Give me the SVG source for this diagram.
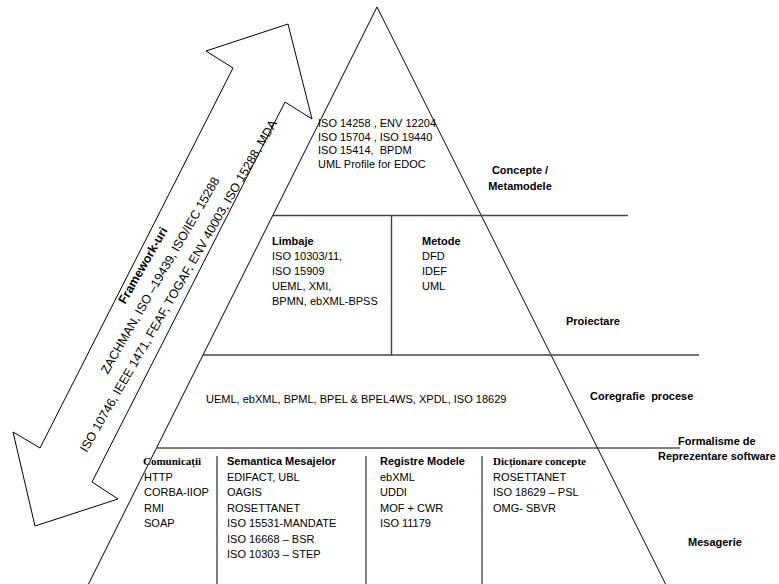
<svg xmlns="http://www.w3.org/2000/svg" width="779" height="584" viewBox="0 0 779 584">
<style>
text{font-family:"Liberation Sans",Arial,sans-serif;font-size:11px;fill:#000}
.b{font-weight:bold}
.sf{font-family:"Liberation Serif","Times New Roman",serif;font-weight:bold;font-size:11px}
.edge{stroke:#000;stroke-width:1;fill:none}
.div{stroke:#444;stroke-width:1.4}
.thin{stroke:#000;stroke-width:1}
.arr{fill:#fff;stroke:#000;stroke-width:1;stroke-linejoin:miter}
.at{font-size:12.4px;text-anchor:middle}
.c{text-anchor:middle}
</style>
<rect width="779" height="584" fill="#fff"/>
<g id="pyramid">
<polyline class="edge" points="88.5,584 377,7 665.5,584"/>
</g>
<g id="connectors">
<line class="div" x1="273" y1="215.5" x2="628" y2="215.5"/>
<line class="div" x1="391.5" y1="215.5" x2="391.5" y2="355"/>
<line class="div" x1="203" y1="355" x2="699" y2="355"/>
<line class="thin" x1="157" y1="448" x2="680" y2="448"/>
<line class="thin" x1="217" y1="456" x2="217" y2="584"/>
<line class="thin" x1="366" y1="456" x2="366" y2="584"/>
<line class="thin" x1="482" y1="456" x2="482" y2="584"/>
</g>
<g id="framework-arrow">
<polygon class="arr" points="288,24 312,119 285,102 92,482 118,499 35,526 13,432 40,448 233,68 206,51"/>
<g transform="translate(182,288) rotate(-60)">
<text class="at b" x="0" y="-41">Framework-uri</text>
<text class="at" x="0" y="-21">ZACHMAN, ISO –19439, ISO/IEC 15288</text>
<text class="at" x="0" y="0">ISO 10746, IEEE 1471, FEAF, TOGAF, ENV 40003, ISO 15288, MDA</text>
</g>
</g>
<g id="concepte">
<text x="318" y="127" xml:space="preserve">ISO 14258 , ENV 12204</text>
<text x="318" y="140.5" xml:space="preserve">ISO 15704 , ISO 19440</text>
<text x="318" y="154" xml:space="preserve">ISO 15414,  BPDM</text>
<text x="318" y="167.5">UML Profile for EDOC</text>
</g>
<g id="label-concepte">
<text class="b c" x="520" y="174">Concepte /</text>
<text class="b c" x="520" y="190">Metamodele</text>
</g>
<g id="limbaje">
<text class="b" x="272" y="245">Limbaje</text>
<text x="272" y="260">ISO 10303/11,</text>
<text x="272" y="275">ISO 15909</text>
<text x="272" y="290">UEML, XMI,</text>
<text x="272" y="305">BPMN, ebXML-BPSS</text>
</g>
<g id="metode">
<text class="b" x="422" y="245">Metode</text>
<text x="422" y="260">DFD</text>
<text x="422" y="275">IDEF</text>
<text x="422" y="290">UML</text>
</g>
<g id="label-proiectare">
<text class="b" x="566" y="325">Proiectare</text>
</g>
<g id="coregrafie">
<text x="206" y="403">UEML, ebXML, BPML, BPEL &amp; BPEL4WS, XPDL, ISO 18629</text>
</g>
<g id="label-coregrafie">
<text class="b" x="590" y="400" xml:space="preserve">Coregrafie  procese</text>
</g>
<g id="label-formalisme">
<text class="b" x="678" y="445">Formalisme de</text>
<text class="b" x="658" y="460">Reprezentare software</text>
</g>
<g id="comunicatii">
<text class="sf" x="143" y="465">Comunicații</text>
<text x="144" y="480.5">HTTP</text>
<text x="144" y="496">CORBA-IIOP</text>
<text x="144" y="511.5">RMI</text>
<text x="144" y="527">SOAP</text>
</g>
<g id="semantica">
<text class="b" x="227" y="465">Semantica Mesajelor</text>
<text x="227" y="480.5">EDIFACT, UBL</text>
<text x="227" y="496">OAGIS</text>
<text x="227" y="511.5">ROSETTANET</text>
<text x="227" y="527">ISO 15531-MANDATE</text>
<text x="227" y="542.5">ISO 16668 – BSR</text>
<text x="227" y="558">ISO 10303 – STEP</text>
</g>
<g id="registre">
<text class="b" x="380" y="465">Registre Modele</text>
<text x="380" y="480.5">ebXML</text>
<text x="380" y="496">UDDI</text>
<text x="380" y="511.5">MOF + CWR</text>
<text x="380" y="527">ISO 11179</text>
</g>
<g id="dictionare">
<text class="sf" x="493" y="465">Dicționare concepte</text>
<text x="493" y="480.5">ROSETTANET</text>
<text x="493" y="496">ISO 18629 – PSL</text>
<text x="493" y="511.5">OMG- SBVR</text>
</g>
<g id="label-mesagerie">
<text class="b" x="688" y="546">Mesagerie</text>
</g>
</svg>
